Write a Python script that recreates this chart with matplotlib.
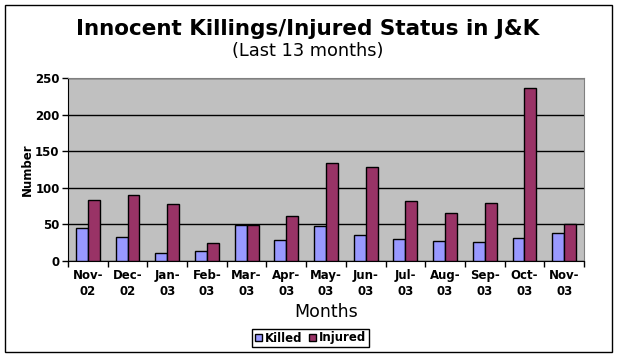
import matplotlib.pyplot as plt
import numpy as np
from matplotlib.patches import Rectangle

# data
months = ['Nov-\n02', 'Dec-\n02', 'Jan-\n03', 'Feb-\n03', 'Mar-\n03', 'Apr-\n03', 'May-\n03',
          'Jun-\n03', 'Jul-\n03', 'Aug-\n03', 'Sep-\n03', 'Oct-\n03', 'Nov-\n03']
killed = [45, 33, 11, 14, 49, 29, 48, 35, 30, 27, 26, 31, 38]
injured = [83, 90, 78, 24, 49, 61, 134, 128, 82, 65, 79, 236, 50]

W, H = 617, 358
fig = plt.figure(figsize=(W / 100, H / 100), dpi=100)
fig.patch.set_facecolor('white')

# outer border of the chart
fig.patches.append(Rectangle((5 / W, 1 - 352 / H), 607 / W, 347 / H, transform=fig.transFigure,
                             fill=False, edgecolor='black', linewidth=1))

ax = fig.add_axes([68 / W, (H - 261) / H, (584 - 68) / W, (261 - 78) / H])
ax.set_facecolor('#C0C0C0')

x = np.arange(len(months))
bw = 0.3
ax.bar(x - bw / 2, killed, bw, color='#9999FF', edgecolor='black', linewidth=1, label='Killed', zorder=3)
ax.bar(x + bw / 2, injured, bw, color='#993366', edgecolor='black', linewidth=1, label='Injured', zorder=3)

ax.set_xlim(-0.5, len(months) - 0.5)
ax.set_ylim(0, 250)
ax.set_yticks(np.arange(0, 251, 50))
ax.yaxis.grid(True, color='black', linewidth=1, zorder=1)
ax.set_axisbelow(True)

ax.set_xticks(x)
ax.set_xticklabels(months, fontsize=8.5, fontweight='bold', linespacing=1.3)
ax.set_xticks(np.arange(-0.5, len(months)), minor=True)
ax.tick_params(axis='x', which='major', length=0, pad=6)
ax.tick_params(axis='x', which='minor', length=4, width=1, direction='out')
ax.tick_params(axis='y', length=4, width=1, direction='out', labelsize=8.5, pad=2)
for lab in ax.get_yticklabels():
    lab.set_fontweight('bold')

for s in ['top', 'right']:
    ax.spines[s].set_color('#808080')
for s in ['left', 'bottom']:
    ax.spines[s].set_color('black')

fig.text(308 / W, 1 - 29 / H, 'Innocent Killings/Injured Status in J&K', ha='center', va='center',
         fontsize=15.5, fontweight='bold')
fig.text(308 / W, 1 - 51 / H, '(Last 13 months)', ha='center', va='center', fontsize=12.8)
fig.text(326 / W, 1 - 312 / H, 'Months', ha='center', va='center', fontsize=12.5)
fig.text(27 / W, 1 - 170 / H, 'Number', ha='center', va='center', fontsize=8.5, fontweight='bold',
         rotation=90)

fig.legend(loc='center', bbox_to_anchor=(310.5 / W, 1 - 338 / H), ncol=2, fancybox=False,
           edgecolor='black', framealpha=1, prop={'size': 8.5, 'weight': 'bold'},
           handlelength=0.6, handleheight=0.6, handletextpad=0.3, columnspacing=0.5,
           borderpad=0.2, borderaxespad=0)

plt.savefig('out.png', dpi=100)
